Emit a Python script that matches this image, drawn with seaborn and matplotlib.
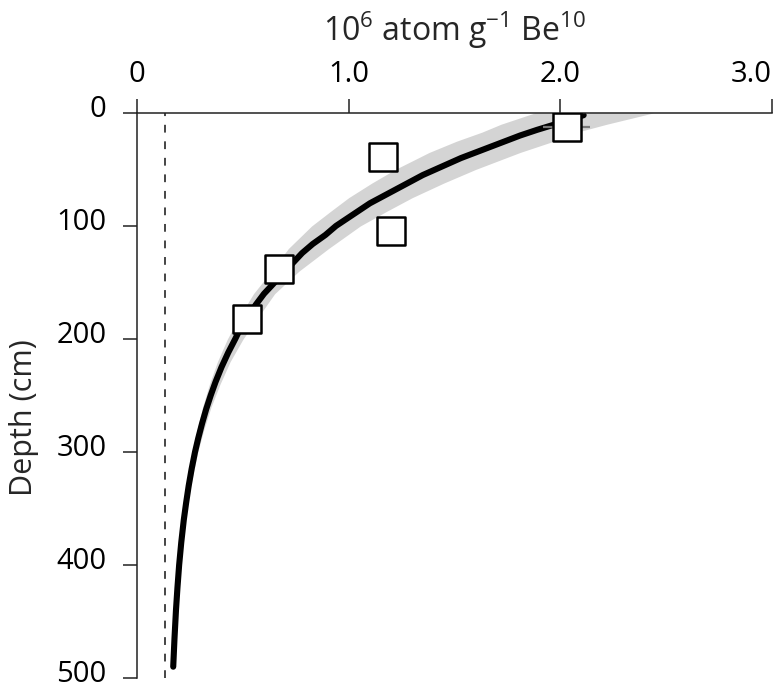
import matplotlib
matplotlib.use("Agg")
import matplotlib.pyplot as plt
import matplotlib.transforms as mtransforms
import seaborn as sns

# 10Be model curve (depth in cm, concentration in 1e6 atom/g)
curve_depth = [2, 5, 8, 11, 15, 20, 25, 30, 35, 40, 45, 50, 55, 60, 65, 70, 75, 80, 85, 90,
               95, 100, 108, 116, 124, 132, 140, 150, 160, 170, 180, 190, 200, 212, 225, 238,
               250, 262, 275, 288, 300, 315, 330, 345, 360, 380, 400, 420, 440, 465, 490]
curve_conc = [2.11, 2.06, 2.01, 1.96, 1.89, 1.81, 1.74, 1.67, 1.60, 1.53, 1.47, 1.41, 1.35,
              1.30, 1.25, 1.20, 1.15, 1.10, 1.06, 1.02, 0.98, 0.94, 0.89, 0.83, 0.78, 0.74,
              0.70, 0.65, 0.60, 0.56, 0.53, 0.49, 0.464, 0.431, 0.399, 0.371, 0.348, 0.327,
              0.307, 0.289, 0.274, 0.258, 0.244, 0.232, 0.221, 0.209, 0.199, 0.191, 0.184,
              0.177, 0.171]

# uncertainty envelope (grey band)
band_depth = [0, 5, 10, 17, 25, 35, 50, 62, 75, 87, 100, 120, 140, 160, 180, 200, 220,
              240, 260, 280, 300, 325, 350, 375, 400]
band_lo = [1.88, 1.80, 1.72, 1.63, 1.51, 1.38, 1.22, 1.11, 1.00, 0.915, 0.825, 0.715,
           0.635, 0.55, 0.485, 0.427, 0.38, 0.342, 0.31, 0.284, 0.261, 0.239, 0.222,
           0.209, 0.199]
band_hi = [2.44, 2.33, 2.22, 2.08, 1.97, 1.81, 1.60, 1.45, 1.30, 1.18, 1.055, 0.905,
           0.765, 0.65, 0.575, 0.501, 0.44, 0.392, 0.35, 0.316, 0.287, 0.259, 0.234,
           0.215, 0.199]

# measured samples
sample_depth = [12.5, 39, 104.5, 138.5, 182]
sample_conc = [2.03, 1.16, 1.20, 0.67, 0.52]
sample_err = [0.11, 0, 0, 0, 0]

inherited = 0.13

x_ticks = [0, 1, 2, 3]
x_ticklabels = ["0", "1.0", "2.0", "3.0"]
y_ticks = [0, 100, 200, 300, 400, 500]

sns.set_style("ticks")
plt.rcParams["font.family"] = ["Open Sans", "DejaVu Sans"]
plt.rcParams["mathtext.fontset"] = "custom"
plt.rcParams["mathtext.rm"] = "Open Sans"
plt.rcParams["mathtext.default"] = "regular"

fig = plt.figure(figsize=(7.83, 6.85), dpi=100)
ax = fig.add_axes([0.175, 0.0102, 0.811, 0.825])

ax.fill_betweenx(band_depth, band_lo, band_hi, color="#d4d4d4", lw=0, zorder=1)
ax.axvline(inherited, color="#444444", lw=1.4, ls=(0, (4, 4.5)), zorder=1)
sns.lineplot(x=curve_conc, y=curve_depth, orient="y", sort=False, estimator=None,
             color="black", lw=4.4, ax=ax, zorder=2)
ax.errorbar(sample_conc, sample_depth, xerr=sample_err, fmt="none",
            ecolor="#777777", elinewidth=1.6, capsize=0, zorder=3)
sns.scatterplot(x=sample_conc, y=sample_depth, marker="s", s=400, color="white",
                edgecolor="black", linewidth=1.8, ax=ax, zorder=4)

ax.set_xlim(0, 3)
ax.set_ylim(500, 0)
ax.xaxis.tick_top()
ax.xaxis.set_label_position("top")
ax.set_xticks(x_ticks)
ax.set_xticklabels(x_ticklabels)
ax.set_yticks(y_ticks)
ax.get_xticklabels()[-1].set_ha("right")

for side in ["right", "bottom"]:
    ax.spines[side].set_visible(False)
for side in ["left", "top"]:
    ax.spines[side].set_linewidth(1.1)
    ax.spines[side].set_color("#222222")

ax.tick_params(axis="x", direction="out", length=10, width=1.1, pad=7, labelsize=21, colors="#222222")
ax.tick_params(axis="y", direction="out", length=10, width=1.1, pad=12, labelsize=21, colors="#222222")
lift = mtransforms.ScaledTranslation(0, 5 / 72, fig.dpi_scale_trans)
for lbl in ax.get_yticklabels():
    lbl.set_transform(lbl.get_transform() + lift)
for lbl in ax.get_xticklabels() + ax.get_yticklabels():
    lbl.set_color("black")

ax.set_xlabel(r"10$^{6}$ atom g$^{-1}$ Be$^{10}$", fontsize=23)
ax.xaxis.set_label_coords(0.5, 1.128)
ax.set_ylabel("Depth (cm)", fontsize=22)
ax.yaxis.set_label_coords(-0.155, 0.46)

fig.savefig("out.png", dpi=100)
